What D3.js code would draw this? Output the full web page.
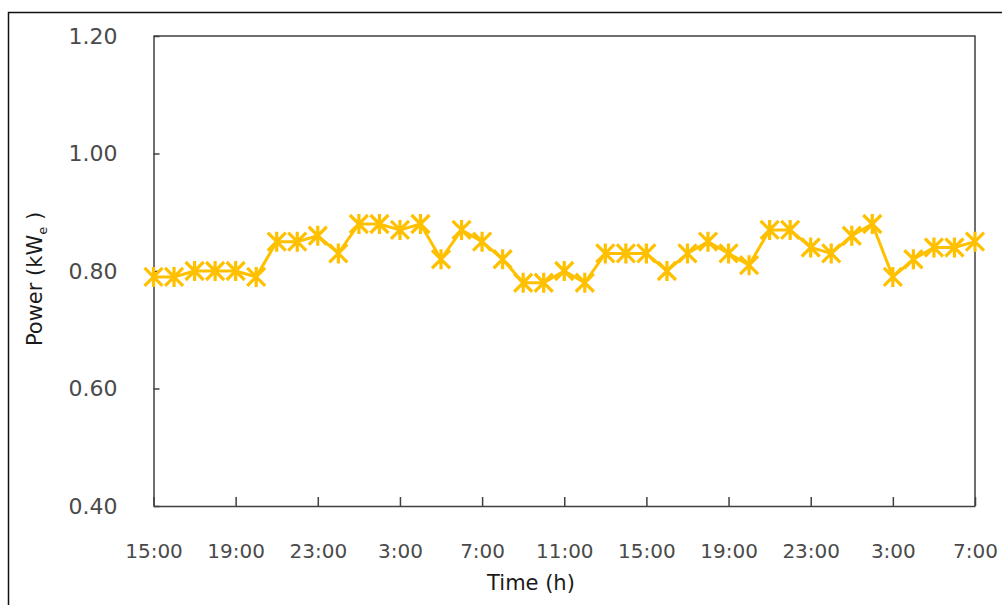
<!DOCTYPE html>
<html>
<head>
<meta charset="utf-8">
<script src="https://d3js.org/d3.v7.min.js"></script>
<style>
  body { margin: 0; background: #fff; }
  svg { display: block; font-family: "DejaVu Sans", sans-serif; }
  .axis path, .axis line { stroke: #404040; stroke-width: 1.5; }
  .axis text { fill: #4a4a4a; font-family: "DejaVu Sans", sans-serif; }
  .axis.x text { font-size: 20px; }
  .axis.y text { font-size: 22px; }
</style>
</head>
<body>
<svg width="1002" height="605"></svg>
<script>
// hours since the start (15:00 on day 1)
var hours = [0, 1, 2, 3, 4, 5, 6, 7, 8, 9, 10, 11, 12, 13, 14, 15, 16, 17, 18, 19, 20,
             21, 22, 23, 24, 25, 26, 27, 28, 29, 30, 31, 32, 33, 34, 35, 36, 37, 38, 39, 40];

var power = [0.79, 0.79, 0.80, 0.80, 0.80, 0.79, 0.85, 0.85, 0.86, 0.83,
             0.88, 0.88, 0.87, 0.88, 0.82, 0.87, 0.85, 0.82, 0.78, 0.78,
             0.80, 0.78, 0.83, 0.83, 0.83, 0.80, 0.83, 0.85, 0.83, 0.81,
             0.87, 0.87, 0.84, 0.83, 0.86, 0.88, 0.79, 0.82, 0.84, 0.84, 0.85];

var xTickHours = [0, 4, 8, 12, 16, 20, 24, 28, 32, 36, 40];
var xTickLabels = ["15:00", "19:00", "23:00", "3:00", "7:00", "11:00",
                   "15:00", "19:00", "23:00", "3:00", "7:00"];
var yTicks = [0.40, 0.60, 0.80, 1.00, 1.20];

var svg = d3.select("svg"),
    plot = {left: 153.5, right: 975, top: 36, bottom: 506};

var x = d3.scaleLinear().domain([0, 40]).range([plot.left, plot.right]),
    y = d3.scaleLinear().domain([0.4, 1.2]).range([plot.bottom, plot.top]);

// outer frame of the figure (runs off the right/bottom edge)
svg.append("rect")
    .attr("x", 8.5).attr("y", 12.5)
    .attr("width", 1010).attr("height", 610)
    .attr("fill", "none")
    .attr("stroke", "#111")
    .attr("stroke-width", 1.5);

// plot box top and right
svg.append("path")
    .attr("d", "M" + plot.left + "," + plot.top + "H" + plot.right + "V" + plot.bottom)
    .attr("fill", "none")
    .attr("stroke", "#404040")
    .attr("stroke-width", 1.5);

svg.append("g")
    .attr("class", "axis x")
    .attr("transform", "translate(0," + plot.bottom + ")")
    .call(d3.axisBottom(x)
        .tickValues(xTickHours)
        .tickFormat(function(d, i) { return xTickLabels[i]; })
        .tickSizeInner(-9)
        .tickSizeOuter(0)
        .tickPadding(38));

svg.append("g")
    .attr("class", "axis y")
    .attr("transform", "translate(" + plot.left + ",0)")
    .call(d3.axisLeft(y)
        .tickValues(yTicks)
        .tickFormat(d3.format(".2f"))
        .tickSizeInner(-6)
        .tickSizeOuter(0)
        .tickPadding(36));

var line = d3.line()
    .x(function(d, i) { return x(hours[i]); })
    .y(function(d) { return y(d); });

var gold = "#FFC000";

svg.append("path")
    .datum(power)
    .attr("fill", "none")
    .attr("stroke", gold)
    .attr("stroke-width", 3)
    .attr("d", line);

// star markers: an X with a vertical bar
var s = 9;
svg.append("g").selectAll("path")
    .data(power)
    .enter().append("path")
    .attr("transform", function(d, i) { return "translate(" + x(hours[i]) + "," + y(d) + ")"; })
    .attr("d", "M" + (-s) + "," + (-s) + "L" + s + "," + s +
               "M" + (-s) + "," + s + "L" + s + "," + (-s) +
               "M0," + (-s - 1) + "V" + (s + 1))
    .attr("fill", "none")
    .attr("stroke", gold)
    .attr("stroke-width", 3.2);

// axis titles
var yt = svg.append("text")
    .attr("transform", "translate(42,279) rotate(-90)")
    .attr("text-anchor", "middle")
    .attr("fill", "#1a1a1a")
    .style("font-size", "21px");
yt.append("tspan").text("Power (kW");
yt.append("tspan").attr("dy", 5).style("font-size", "13px").text("e");
yt.append("tspan").attr("dy", -5).text(" )");

svg.append("text")
    .attr("x", 531).attr("y", 590)
    .attr("text-anchor", "middle")
    .attr("fill", "#1a1a1a")
    .style("font-size", "21px")
    .text("Time (h)");
</script>
</body>
</html>
